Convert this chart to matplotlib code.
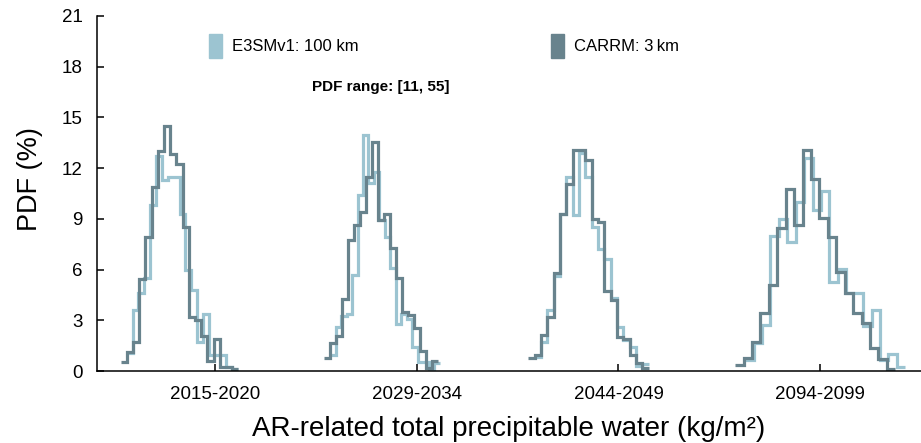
import numpy as np
import matplotlib.pyplot as plt
from matplotlib.patches import Patch

plt.rcParams['font.family'] = ['Liberation Sans', 'DejaVu Sans']

# периоды и сдвиг каждого блока по оси X
periods = ["2015-2020", "2029-2034", "2044-2049", "2094-2099"]
block_offset = [0, 50, 100, 150]
tick_pos = 33  # середина диапазона [11, 55]

# E3SMv1: 100 km -- (min, max) гистограммы и PDF (%) в каждом бине
e3sm_range = [(11.10, 38.75), (11.50, 38.76), (12.24, 40.50), (14.39, 54.10)]
e3sm_p1 = [1.05, 3.6, 4.6, 5.5, 9.8, 12.7, 11.3, 11.5, 11.5, 9.3, 6.0, 4.8, 1.7, 3.4, 0.95, 0.95, 0.95, 0.25, 0.1]
e3sm_p2 = [0.95, 2.62, 3.27, 3.4, 5.68, 10.4, 13.96, 11.1, 11.8, 8.93, 7.95, 6.09, 2.8, 3.4, 3.1, 1.44, 0.51, 0.51, 0.1, 0.5]
e3sm_p3 = [0.8, 1.7, 3.6, 5.6, 9.3, 11.5, 9.2, 12.9, 11.5, 8.5, 7.2, 6.6, 4.3, 2.6, 1.83, 1.44, 0.3, 0.4]
e3sm_p4 = [0.65, 1.64, 2.72, 7.99, 8.97, 7.65, 10.0, 12.58, 9.53, 10.67, 5.28, 6.02, 4.63, 4.63, 2.66, 3.61, 0.65, 1.0, 0.22]

# CARRM: 3 km
carrm_range = [(9.61, 38.81), (10.02, 38.27), (10.67, 40.50), (11.91, 51.62)]
carrm_p1 = [0.55, 1.14, 1.70, 5.44, 7.91, 10.9, 13.0, 14.5, 12.84, 12.25, 8.5, 3.2, 3.0, 2.07, 0.61, 1.87, 0.26, 0.26, 0.1]
carrm_p2 = [0.79, 1.64, 2.09, 4.26, 7.75, 8.64, 9.39, 11.5, 13.53, 8.93, 9.27, 7.26, 5.48, 3.51, 3.3, 2.56, 1.2, 0.16, 0.59]
carrm_p3 = [0.79, 0.95, 2.13, 3.2, 5.78, 9.29, 11.07, 13.08, 13.08, 12.5, 9.0, 8.8, 4.73, 4.2, 2.03, 1.9, 0.95, 0.5, 0.16]
carrm_p4 = [0.36, 0.75, 1.73, 3.45, 5.09, 8.44, 10.75, 8.64, 13.08, 11.34, 9.03, 7.91, 5.88, 4.6, 3.45, 2.86, 1.34, 0.69, 0.1]

e3sm_pdf = [e3sm_p1, e3sm_p2, e3sm_p3, e3sm_p4]
carrm_pdf = [carrm_p1, carrm_p2, carrm_p3, carrm_p4]

c_e3sm = '#9CC4D1'
c_carrm = '#68838D'

fig = plt.figure(figsize=(9.21, 4.43), dpi=100)
ax = fig.add_axes([97/921, 72/443, 824/921, 355/443])

# ступенчатые гистограммы, сначала E3SM, потом CARRM поверх
for i in range(4):
    lo, hi = e3sm_range[i]
    edges = np.linspace(lo, hi, len(e3sm_pdf[i]) + 1) + block_offset[i]
    ax.stairs(e3sm_pdf[i], edges, baseline=None, color=c_e3sm, linewidth=2.3)
for i in range(4):
    lo, hi = carrm_range[i]
    edges = np.linspace(lo, hi, len(carrm_pdf[i]) + 1) + block_offset[i]
    ax.stairs(carrm_pdf[i], edges, baseline=None, color=c_carrm, linewidth=2.3)

ax.set_xlim(3.74, 208.0)
ax.set_ylim(0, 21)
ax.set_yticks(range(0, 22, 3))
ax.set_xticks([o + tick_pos for o in block_offset])
ax.set_xticklabels(periods)

ax.spines['top'].set_visible(False)
ax.spines['right'].set_visible(False)
ax.spines['left'].set_linewidth(1.1)
ax.spines['bottom'].set_linewidth(1.1)
ax.tick_params(axis='y', direction='in', length=5, width=1.1, labelsize=13.5, pad=10.5)
ax.tick_params(axis='x', direction='in', length=5, width=1.1, labelsize=13.5, pad=11)

ax.set_ylabel("PDF (%)", fontsize=19.5)
ax.yaxis.set_label_coords(-0.066, 0.542)
ax.set_xlabel("AR-related total precipitable water (kg/m²)", fontsize=20, labelpad=9)

# легенда
handles = [Patch(color=c_e3sm), Patch(color=c_carrm)]
labels = ['E3SMv1: 100 km', 'CARRM: 3\u2009km']
fig.legend(handles, labels, loc='center left', bbox_to_anchor=(209/921, 1 - 46/443),
           ncol=2, frameon=False, fontsize=12, handlelength=0.75, handleheight=1.9,
           handletextpad=0.6, columnspacing=11.6, borderpad=0, borderaxespad=0)

fig.text(381/921, 1 - 87/443, "PDF range: [11, 55]", ha='center', va='center',
         fontsize=11, fontweight='bold')

plt.savefig('out.png', dpi=100)
